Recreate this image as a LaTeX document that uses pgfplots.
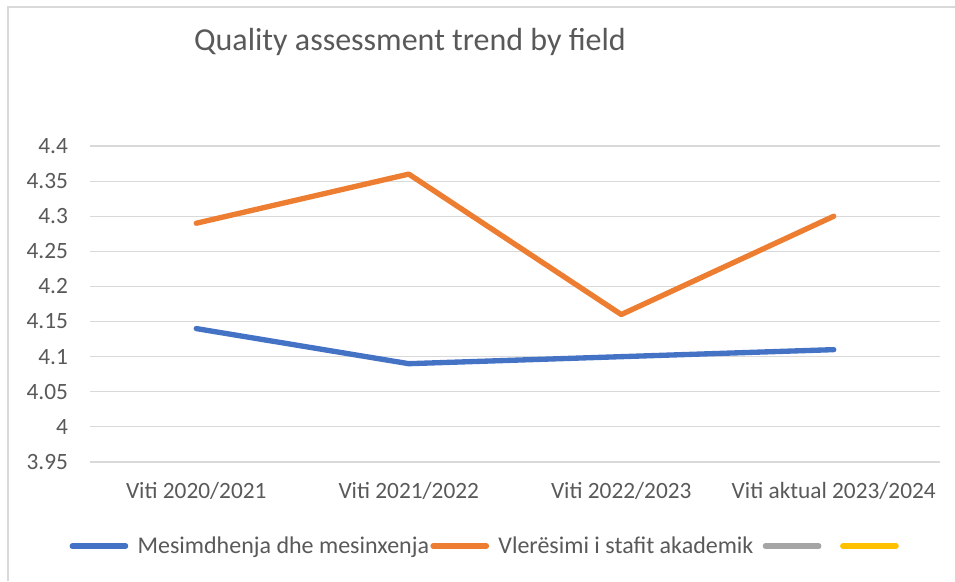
\documentclass[border=0pt]{standalone}
\usepackage{pgfplots}
\pgfplotsset{compat=1.18}
\usepackage{fontspec}
\setmainfont{Carlito}
\definecolor{cblue}{HTML}{4472C4}
\definecolor{corange}{HTML}{ED7D31}
\definecolor{cgray}{HTML}{A5A5A5}
\definecolor{cyellow}{HTML}{FFC000}
\definecolor{ctext}{HTML}{595959}
\definecolor{cgrid}{HTML}{D9D9D9}
\begin{document}
\begin{tikzpicture}
\path[use as bounding box] (0pt,0pt) rectangle (716.25pt,435.75pt);
\draw[cgrid, line width=1pt] (6pt,0pt) -- (6pt,430.5pt) -- (716.25pt,430.5pt);
\node[text=ctext, font=\fontsize{24}{28}\selectfont, anchor=center] at (307.5pt,404.25pt) {Quality assessment trend by field};
\begin{axis}[
  at={(67.5pt,89.25pt)}, anchor=south west,
  scale only axis, width=637.5pt, height=237pt,
  xmin=-0.5, xmax=3.5, ymin=3.95, ymax=4.4,
  ytick={3.95,4,4.05,4.1,4.15,4.2,4.25,4.3,4.35,4.4},
  yticklabels={3.95,4,4.05,4.1,4.15,4.2,4.25,4.3,4.35,4.4},
  xtick={0,1,2,3},
  xticklabels={Viti 2020/2021,Viti 2021/2022,Viti 2022/2023,Viti aktual 2023/2024},
  axis line style={draw=none},
  major tick length=0pt,
  ymajorgrids, grid style={cgrid, line width=0.9pt},
  tick label style={text=ctext, font=\fontsize{17.5}{20}\selectfont},
  yticklabel style={xshift=-13pt},
  xticklabel style={yshift=-12pt},
  clip=false,
  legend columns=4,
  legend style={draw=none, fill=none, at={(0.47,-0.266)}, anchor=center,
    font=\fontsize{18}{20}\selectfont, text=ctext,
    nodes={inner xsep=1pt},
    /tikz/every even column/.append style={column sep=0pt},
    /tikz/every odd column/.append style={column sep=6pt}},
  legend cell align=left,
  legend image code/.code={\draw[#1, line cap=round] (0pt,0pt) -- (40pt,0pt);},
]
\addplot[cblue, line width=4pt, line cap=round, line join=round] coordinates {(0,4.14) (1,4.09) (2,4.10) (3,4.11)};
\addlegendentry{Mesimdhenja dhe mesinxenja}
\addplot[corange, line width=4pt, line cap=round, line join=round] coordinates {(0,4.29) (1,4.36) (2,4.16) (3,4.30)};
\addlegendentry{Vlerësimi i stafit akademik\hspace*{6pt}}
\addlegendimage{cgray, line width=4pt}
\addlegendentry{\hspace*{6pt}}
\addlegendimage{cyellow, line width=4pt}
\addlegendentry{}
\end{axis}
\end{tikzpicture}
\end{document}
